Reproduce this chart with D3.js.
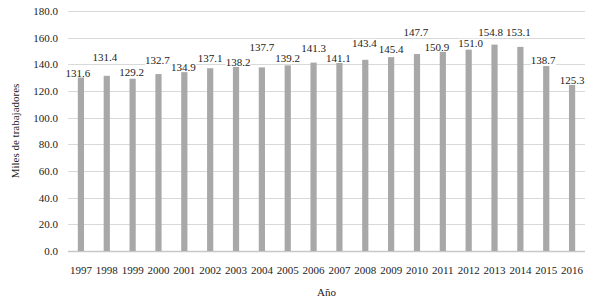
<!DOCTYPE html>
<html>
<head>
<meta charset="utf-8">
<script src="https://cdn.jsdelivr.net/npm/d3@7"></script>
<style>
  html, body { margin: 0; padding: 0; background: #fff; }
  svg { display: block; font-family: "Liberation Serif", "Times New Roman", serif; }
</style>
</head>
<body>
<div id="chart"></div>
<script>
// Data
const years = ["1997", "1998", "1999", "2000", "2001", "2002", "2003", "2004", "2005", "2006",
  "2007", "2008", "2009", "2010", "2011", "2012", "2013", "2014", "2015", "2016"];
const workers = [131.6, 131.4, 129.2, 132.7, 134.9, 137.1, 138.2, 137.7, 139.2, 141.3,
  141.1, 143.4, 145.4, 147.7, 150.9, 151.0, 154.8, 153.1, 138.7, 125.3];
const yTicks = [0, 20, 40, 60, 80, 100, 120, 140, 160, 180];

// label lift above bar top (px), as placed in the original
const labelLift = [3, 19, 7, 14, 4, 10, 5, 20, 7, 15, 5, 17, 8, 22, 3, 7, 13, 15, 6, 4];
const labelShift = [-3, -2, -1, -1, -1, 0, 2, 0, 0, 0, -1, -1, 0, -1, -6, 2, -4, -2, -3, 0];

const width = 589, height = 299;
const margin = { top: 11, right: 4, bottom: 48, left: 68 };
const innerWidth = width - margin.left - margin.right;
const innerHeight = height - margin.top - margin.bottom;

const svg = d3.select("#chart").append("svg")
  .attr("width", width)
  .attr("height", height);

const inner = svg.append("g")
  .attr("transform", `translate(${margin.left},${margin.top})`);

const xScale = d3.scaleBand()
  .domain(years)
  .range([0, innerWidth])
  .paddingInner(0.76)
  .paddingOuter(0.38);

const yScale = d3.scaleLinear()
  .domain([0, 180])
  .range([innerHeight, 0]);

// Gridlines
inner.selectAll(".grid")
  .data(yTicks)
  .enter()
  .append("line")
  .attr("x1", 0)
  .attr("x2", innerWidth)
  .attr("y1", d => Math.round(yScale(d)) + 0.5)
  .attr("y2", d => Math.round(yScale(d)) + 0.5)
  .attr("stroke", d => d === 0 ? "#c8c8c8" : "#d9d9d9")
  .attr("stroke-width", d => d === 0 ? 1.5 : 1);

// Bars
inner.selectAll(".bar")
  .data(workers)
  .enter()
  .append("rect")
  .attr("class", "bar")
  .attr("x", (d, i) => xScale(years[i]))
  .attr("y", d => yScale(d))
  .attr("width", xScale.bandwidth())
  .attr("height", d => innerHeight - yScale(d))
  .attr("fill", "#a8a8a8");

// Value labels (white box behind, like the original)
const labels = inner.selectAll(".bar-label")
  .data(workers)
  .enter()
  .append("g")
  .attr("class", "bar-label");

labels.append("text")
  .attr("x", (d, i) => xScale(years[i]) + xScale.bandwidth() / 2 + labelShift[i])
  .attr("y", (d, i) => yScale(d) - labelLift[i] + 4)
  .attr("text-anchor", "middle")
  .attr("font-size", "11px")
  .attr("fill", "#222")
  .text(d => d.toFixed(1));

labels.each(function() {
  const g = d3.select(this);
  const bb = g.select("text").node().getBBox();
  g.insert("rect", "text")
    .attr("x", bb.x)
    .attr("y", bb.y + 2)
    .attr("width", bb.width)
    .attr("height", bb.height - 3)
    .attr("fill", "#fff");
});

// Y axis
const yAxis = inner.append("g")
  .call(d3.axisLeft(yScale).tickValues(yTicks).tickSize(0).tickPadding(10).tickFormat(d => d.toFixed(1)));
yAxis.select(".domain").remove();
yAxis.selectAll("text")
  .attr("font-family", "Liberation Serif, serif")
  .attr("font-size", "11px")
  .attr("fill", "#222");

// X axis
const xAxis = inner.append("g")
  .attr("transform", `translate(0,${innerHeight})`)
  .call(d3.axisBottom(xScale).tickSize(0).tickPadding(15));
xAxis.select(".domain").remove();
xAxis.selectAll("text")
  .attr("font-family", "Liberation Serif, serif")
  .attr("font-size", "11px")
  .attr("fill", "#222");

// Axis titles
inner.append("text")
  .attr("x", innerWidth / 2)
  .attr("y", innerHeight + 45)
  .attr("text-anchor", "middle")
  .attr("font-size", "11px")
  .attr("fill", "#222")
  .text("Año");

inner.append("text")
  .attr("transform", "rotate(-90)")
  .attr("x", -innerHeight / 2)
  .attr("y", -49)
  .attr("text-anchor", "middle")
  .attr("font-size", "11px")
  .attr("fill", "#222")
  .text("Miles de trabajadores");
</script>
</body>
</html>
